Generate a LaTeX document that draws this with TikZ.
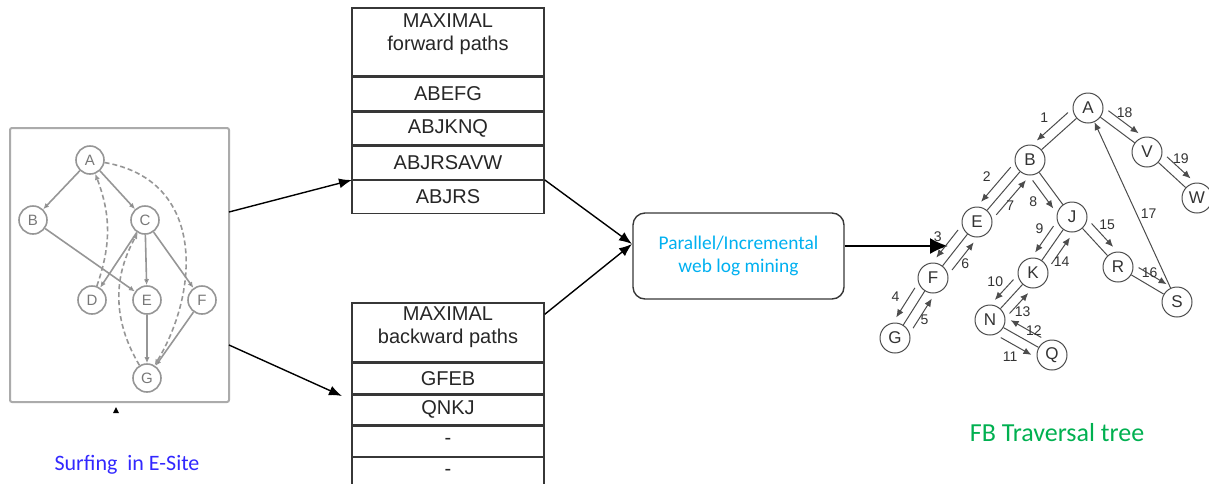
\documentclass[tikz,border=0pt]{standalone}
\usepackage{fontspec}
\setmainfont{Liberation Sans}
\newfontfamily\capfont{Carlito}
\usetikzlibrary{calc,positioning,arrows.meta}
\definecolor{lg}{RGB}{150,150,150}
\definecolor{bx}{RGB}{55,55,55}
\definecolor{cy}{RGB}{0,176,240}
\definecolor{gn}{RGB}{0,176,80}
\definecolor{bl}{RGB}{50,40,255}
\tikzstyle{site}=[circle,draw=lg,line width=0.8pt,minimum size=14pt,inner sep=0pt,text=lg!80!black,font=\fontsize{7.5}{8}\selectfont]
\tikzstyle{hop}=[draw=lg,line width=0.8pt,-{Latex[length=3pt,width=2.6pt]}]
\tikzstyle{back}=[hop,dash pattern=on 2.5pt off 1.5pt]
\tikzstyle{cell}=[draw=bx,line width=0.7pt,minimum width=96pt,minimum height=16.5pt,inner sep=0pt,align=center,text=black!85,font=\fontsize{10}{11.5}\selectfont]
\tikzstyle{tnode}=[circle,draw=black!70,line width=0.5pt,minimum size=15pt,inner sep=0pt,text=black!80,font=\fontsize{8.5}{9}\selectfont]
\tikzstyle{tline}=[draw=black!70,line width=0.5pt]
\tikzstyle{travel}=[tline,-{Latex[length=4pt,width=3.4pt]}]
\tikzstyle{num}=[inner sep=0pt,text=black!80,font=\fontsize{7}{8}\selectfont]
\tikzstyle{flow}=[line width=0.7pt,-{Latex[length=6.5pt,width=5pt]}]
% one traversal step beside a tree edge: [label shift] from, to, side (-90 right, 90 left), step number
\newcommand{\trav}[5][(0,0)]{%
  \coordinate (tp) at ($(#2)!9pt!(#3)$);
  \coordinate (tq) at ($(#3)!9pt!(#2)$);
  \coordinate (ts) at ($(tp)!5pt!#4:(tq)$);
  \draw[travel] (ts) -- ($(tq)+(ts)-(tp)$);
  \node[num] at ($($(tp)!0.5!(tq)$)!11pt!#4:(tq)$) [shift={#1}] {#5};}

\begin{document}
\begin{tikzpicture}[x=0.5pt,y=-0.5pt,>=latex,node distance=0pt]
	\useasboundingbox (0,0) rectangle (1209,483);

	% surfing in the e-site
	\node[draw=lg!80,line width=1pt,rounded corners=1pt,minimum width=109.5pt,minimum height=137pt] (frame) at (119.5,265) {};
	\node[site] (a) at (90,160) {A};
	\node[site] (b) at (33,220) {B};
	\node[site] (c) at (145,220) {C};
	\node[site] (d) at (92,300) {D};
	\node[site] (e) at (147,300) {E};
	\node[site] (f) at (202,300) {F};
	\node[site] (g) at (147,378) {G};
	\path[hop]
		(a) edge (b) edge (c)
		(b) edge (e)
		(c) edge (d) edge (e) edge (f)
		(e) edge (g)
		(f) edge (g);
	\draw[back] (d) to[bend right=20] (a);
	\draw[back] (g) to[bend left=30] (c);
	\draw[back] (a) .. controls (205,180) and (200,290) .. (g);
	\fill[black] (113,413) -- (119,413) -- (116,407) -- cycle;
	\node[bl,font=\capfont\fontsize{11}{13}\selectfont] (surf) at (127,465) {Surfing\ \ in E-Site};

	% maximal paths
	\node[cell,minimum height=34pt,text depth=10.3pt] (f0) at (448,42) {MAXIMAL\\forward paths};
	\node[cell] (f1) [below=of f0] {ABEFG};
	\node[cell] (f2) [below=of f1] {ABJKNQ};
	\node[cell] (f3) [below=of f2] {ABJRSAVW};
	\node[cell] (f4) [below=of f3] {ABJRS};
	\node[cell,minimum height=29.5pt,text depth=7.3pt] (b0) at (448,332.5) {MAXIMAL\\backward paths};
	\node[cell,minimum height=15pt] (b1) [below=of b0] {GFEB};
	\node[cell,minimum height=15pt] (b2) [below=of b1] {QNKJ};
	\node[cell,minimum height=15pt] (b3) [below=of b2] {-};
	\node[cell,minimum height=15pt] (b4) [below=of b3] {-};

	\node[draw=bx,line width=0.7pt,rounded corners=6pt,minimum width=105.5pt,minimum height=43pt,align=center,text=cy,font=\capfont\fontsize{9.7}{11.5}\selectfont] (mine) at (738.5,256) {Parallel/Incremental\\web log mining};

	\coordinate (s1) at (229,212);
	\coordinate (s2) at (229,345);
	\coordinate (t1) at (352,180);
	\coordinate (t2) at (342,396);
	\coordinate (m1) at (632,244);
	\coordinate (in) at (948,246);
	\draw[flow] (s1) -- (t1);
	\draw[flow] (s2) -- (t2);
	\draw[flow] (f4.north east) -- (m1);
	\draw[flow] ([yshift=-6pt]b0.north east) -- (m1);
	\draw[line width=1pt,-{Latex[length=9pt,width=8pt]}] (mine.east |- in) -- (in);

	% FB traversal tree
	\node[tnode] (ta) at (1088,108) {A};
	\node[tnode] (tb) at (1030,160) {B};
	\node[tnode] (tv) at (1147,152) {V};
	\node[tnode] (tw) at (1197,198) {W};
	\node[tnode] (te) at (977,222) {E};
	\node[tnode] (tj) at (1072,217) {J};
	\node[tnode] (tf) at (933,278) {F};
	\node[tnode] (tk) at (1033,273) {K};
	\node[tnode] (tr) at (1118,267) {R};
	\node[tnode] (tsn) at (1177,302) {S};
	\node[tnode] (tg) at (895,338) {G};
	\node[tnode] (tn) at (990,320) {N};
	\node[tnode] (tqn) at (1052,355) {Q};
	\draw[tline] (ta) -- (tb) (ta) -- (tv) (tv) -- (tw) (tb) -- (te) (tb) -- (tj)
		(te) -- (tf) (tf) -- (tg) (tj) -- (tk) (tj) -- (tr) (tk) -- (tn)
		(tn) -- (tqn) (tr) -- (tsn);
	\trav{ta}{tb}{-90}{1}
	\trav{tb}{te}{-90}{2}
	\trav{te}{tf}{-90}{3}
	\trav{tf}{tg}{-90}{4}
	\trav[(-8,0)]{tg}{tf}{-90}{5}
	\trav[(-7,0)]{tf}{te}{-90}{6}
	\trav[(-10,0)]{te}{tb}{-90}{7}
	\trav{tb}{tj}{-90}{8}
	\trav[(5,-4)]{tj}{tk}{-90}{9}
	\trav{tk}{tn}{-90}{10}
	\trav{tn}{tqn}{-90}{11}
	\trav[(2,12)]{tqn}{tn}{-90}{12}
	\trav[(-5,0)]{tn}{tk}{-90}{13}
	\trav[(-9,4)]{tk}{tj}{-90}{14}
	\trav[(-4,-2)]{tj}{tr}{90}{15}
	\trav[(-9,7)]{tr}{tsn}{90}{16}
	\draw[travel] (tsn) -- node[num,right=2pt,pos=0.45] {17} (ta);
	\trav[(-6,0)]{ta}{tv}{90}{18}
	\trav[(-6,0)]{tv}{tw}{90}{19}
	\node[gn,font=\capfont\fontsize{13}{15}\selectfont] (fbt) at (1057,433) {FB Traversal tree};
\end{tikzpicture}
\end{document}
